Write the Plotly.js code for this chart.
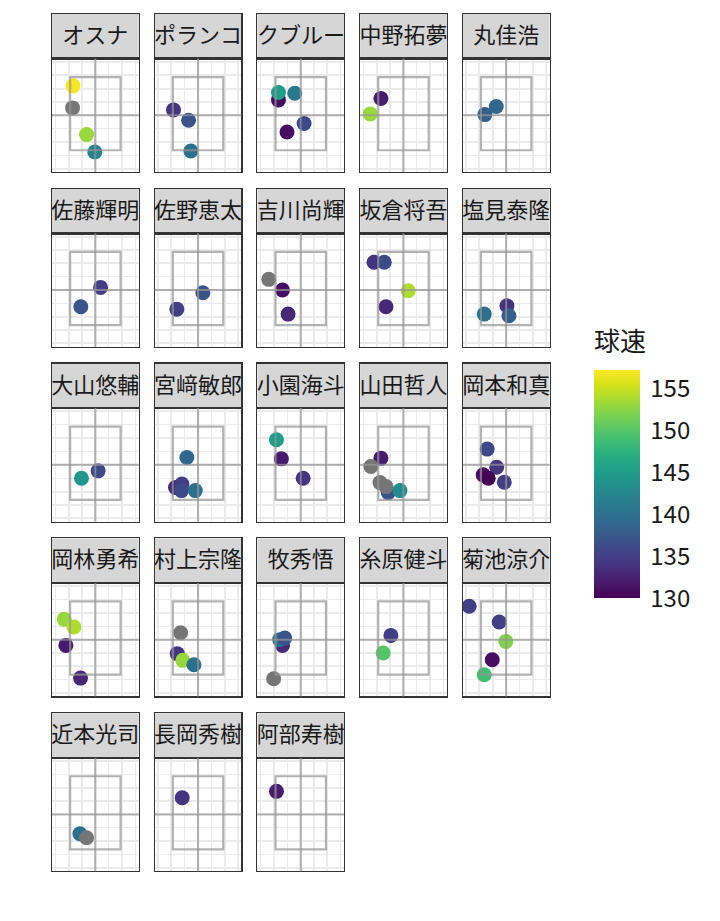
<!DOCTYPE html>
<html>
<head>
<meta charset="utf-8">
<script src="https://cdn.plot.ly/plotly-3.0.1.min.js"></script>
<style>html,body{margin:0;padding:0;background:#fff;}#chart{width:720px;height:921px;}</style>
</head>
<body>
<div id="chart"></div>
<script>
// ---- data ----
const players = ["オスナ","ポランコ","マクブルーム","中野拓夢","丸佳浩",
  "佐藤輝明","佐野恵太","吉川尚輝","坂倉将吾","塩見泰隆",
  "大山悠輔","宮﨑敏郎","小園海斗","山田哲人","岡本和真",
  "岡林勇希","村上宗隆","牧秀悟","糸原健斗","菊池涼介",
  "近本光司","長岡秀樹","阿部寿樹"];

// pitch -> player index
const pitchPlayer = [
  0,0,0,0,
  1,1,1,
  2,2,2,2,2,
  3,3,
  4,4,
  5,5,
  6,6,
  7,7,7,
  8,8,8,8,
  9,9,9,
  10,10,
  11,11,11,11,11,
  12,12,12,
  13,13,13,13,13,13,
  14,14,14,14,14,
  15,15,15,15,
  16,16,16,16,
  17,17,17,17,
  18,18,
  19,19,19,19,19,
  20,20,
  21,
  22];
const pitchX = [
  -1.67,-1.71,-0.66,-0.04,
  -1.84,-0.71,-0.54,
  -1.67,-1.67,-0.45,0.25,-1.03,
  -1.69,-2.49,
  -1.59,-0.74,
  0.39,-1.09,
  0.36,-1.59,
  -2.40,-1.37,-0.95,
  -2.21,-1.44,0.36,-1.31,
  -1.64,0.06,0.21,
  0.21,-1.04,
  -0.84,-1.69,-1.21,-1.24,-0.21,
  -1.82,-1.45,0.18,
  -1.69,-2.44,-1.14,-1.76,-1.31,-0.26,
  -1.42,-0.71,-1.72,-1.34,-0.14,
  -2.34,-1.61,-2.21,-1.11,
  -1.31,-1.56,-1.14,-0.31,
  -1.37,-1.58,-1.20,-2.03,
  -0.94,-1.52,
  -2.77,-0.52,-0.02,-1.04,-1.64,
  -1.16,-0.66,
  -1.19,
  -1.82];
const pitchY = [
  2.20,0.55,-1.45,-2.75,
  0.40,-0.38,-2.68,
  1.15,1.70,1.65,-0.62,-1.25,
  1.25,0.10,
  0.05,0.65,
  0.20,-1.25,
  -0.20,-1.43,
  0.80,0.00,-1.80,
  2.08,2.08,-0.05,-1.25,
  -1.80,-1.18,-1.93,
  -0.45,-1.00,
  0.55,-1.70,-1.43,-1.93,-1.93,
  1.88,0.45,-1.00,
  0.50,-0.12,-2.08,-1.33,-1.63,-1.93,
  1.18,-0.18,-0.75,-1.00,-1.30,
  1.52,0.95,-0.43,-2.88,
  0.52,-1.05,-1.55,-1.88,
  -0.43,0.00,0.12,-2.93,
  0.32,-1.00,
  2.50,1.32,-0.13,-1.50,-2.63,
  -1.45,-1.75,
  1.25,
  1.73];
const pitchSpeed = [
  157,null,153,142,
  134,137,140,
  131,145,141,136,131,
  132,153,
  138,139,
  135,137,
  137,135,
  null,131,133,
  134,136,154,133,
  140,134,138,
  136,144,
  139,133,135,136,140,
  145,132,134,
  132,null,137,null,null,143,
  136,134,131,130,135,
  153,154,132,133,
  null,134,153,140,
  133,140,137,null,
  135,150,
  135,135,152,131,149,
  140,null,
  134,
  132];
const speedTicks = [130,135,140,145,150,155];
const speedMin = 130, speedMax = 157.2;

// reference geometry (strike zone and plot extent)
const X_RANGE = [-3.25, 3.25];
const Y_RANGE = [-4.25, 4.25];
const ZONE_X = [-1.89, 1.89];
const ZONE_Y = [-2.62, 2.86];

// ---- layout geometry ----
const W = 720, H = 921;
const NCOL = 5;
const colLeft0 = 52, colStep = 102.7, panelW = 86.7;
const rowTop0 = 14, rowStep = 174.8, stripH = 44.5, panelH = 113.5;
const FONT = '"Noto Sans CJK JP", "Noto Sans", sans-serif';

// colour bar geometry (pixels)
const barLeftPx = 594, barWidthPx = 46, barTopPx = 370.0, barBottomPx = 598.3;
const cbTitleH = 42;

const layout = {
  width: W, height: H,
  margin: {l:0, r:0, t:0, b:0, pad:0},
  paper_bgcolor: '#ffffff',
  plot_bgcolor: 'rgba(0,0,0,0)',
  showlegend: false,
  hovermode: false,
  font: {family: FONT, color: '#1a1a1a'},
  shapes: []
};
const traces = [];
const NP = players.length;
let scaleShown = false;

for (let i = 0; i < NP; i++) {
  const r = Math.floor(i / NCOL), c = i % NCOL;
  const x0 = colLeft0 + c * colStep, x1 = x0 + panelW;
  const sTop = rowTop0 + r * rowStep, sBot = sTop + stripH, pBot = sBot + panelH;
  const pa = i + 1, sa = i + 1 + NP;
  const xd = [x0 / W, x1 / W];
  layout['xaxis' + pa] = {
    domain: xd, range: X_RANGE, anchor: 'y' + pa, fixedrange: true,
    showticklabels: false, ticks: '', zeroline: false,
    showgrid: true, gridcolor: '#ebebeb', gridwidth: 2, tick0: 0, dtick: 2,
    minor: {showgrid: true, dtick: 1, tick0: 0, gridcolor: '#ebebeb', gridwidth: 1.4},
    showline: true, mirror: true, linecolor: '#333333', linewidth: 1.2
  };
  layout['yaxis' + pa] = {
    domain: [1 - pBot / H, 1 - sBot / H], range: Y_RANGE, anchor: 'x' + pa, fixedrange: true,
    showticklabels: false, ticks: '', zeroline: false,
    showgrid: true, gridcolor: '#ebebeb', gridwidth: 2, tick0: 0, dtick: 2,
    minor: {showgrid: true, dtick: 1, tick0: 0, gridcolor: '#ebebeb', gridwidth: 1.4},
    showline: true, mirror: true, linecolor: '#333333', linewidth: 1.2
  };
  layout['xaxis' + sa] = {
    domain: xd, range: [0, 1], anchor: 'y' + sa, fixedrange: true,
    showticklabels: false, ticks: '', zeroline: false, showgrid: false,
    showline: true, mirror: true, linecolor: '#333333', linewidth: 1.2
  };
  layout['yaxis' + sa] = {
    domain: [1 - sBot / H, 1 - sTop / H], range: [0, 1], anchor: 'x' + sa, fixedrange: true,
    showticklabels: false, ticks: '', zeroline: false, showgrid: false,
    showline: true, mirror: true, linecolor: '#333333', linewidth: 1.2
  };
  // strip background
  layout.shapes.push({type: 'rect', xref: 'x' + sa + ' domain', yref: 'y' + sa + ' domain',
    x0: 0, x1: 1, y0: 0, y1: 1, fillcolor: '#d6d6d6', line: {width: 0}, layer: 'below'});
  // center lines
  const lc = 'rgba(150,150,150,0.72)';
  layout.shapes.push({type: 'line', xref: 'x' + pa + ' domain', yref: 'y' + pa,
    x0: 0, x1: 1, y0: 0, y1: 0, line: {color: lc, width: 2}, layer: 'above'});
  layout.shapes.push({type: 'line', xref: 'x' + pa, yref: 'y' + pa + ' domain',
    x0: 0, x1: 0, y0: 0, y1: 1, line: {color: lc, width: 2}, layer: 'above'});
  // strike zone
  layout.shapes.push({type: 'rect', xref: 'x' + pa, yref: 'y' + pa,
    x0: ZONE_X[0], x1: ZONE_X[1], y0: ZONE_Y[0], y1: ZONE_Y[1],
    line: {color: lc, width: 2.2}, fillcolor: 'rgba(0,0,0,0)', layer: 'above'});

  // strip label (clipped to strip)
  traces.push({type: 'scatter', mode: 'text', x: [0.5], y: [0.47], text: [players[i]],
    textposition: 'middle center', cliponaxis: true,
    textfont: {family: FONT, size: 22, color: '#1a1a1a'},
    xaxis: 'x' + sa, yaxis: 'y' + sa, hoverinfo: 'skip'});

  // points, grouped by runs of NA / non-NA to keep drawing order
  let runs = [];
  for (let k = 0; k < pitchPlayer.length; k++) {
    if (pitchPlayer[k] !== i) continue;
    const isNA = pitchSpeed[k] === null;
    if (!runs.length || runs[runs.length - 1].na !== isNA) runs.push({na: isNA, xs: [], ys: [], ss: []});
    const g = runs[runs.length - 1];
    g.xs.push(pitchX[k]); g.ys.push(pitchY[k]); g.ss.push(pitchSpeed[k]);
  }
  runs.forEach(g => {
    const t = {type: 'scatter', mode: 'markers', x: g.xs, y: g.ys,
      xaxis: 'x' + pa, yaxis: 'y' + pa, cliponaxis: true, hoverinfo: 'skip'};
    if (g.na) {
      t.marker = {size: 15, color: '#767676', line: {width: 0}};
    } else {
      t.marker = {size: 15, color: g.ss, colorscale: 'Viridis', cmin: speedMin, cmax: speedMax,
        line: {width: 0}, showscale: !scaleShown};
      if (!scaleShown) {
        scaleShown = true;
        const topPx = barTopPx - cbTitleH;
        t.marker.colorbar = {
          x: barLeftPx / W, xanchor: 'left', y: 1 - barBottomPx / H, yanchor: 'bottom',
          len: barBottomPx - topPx, lenmode: 'pixels', thickness: barWidthPx, thicknessmode: 'pixels',
          outlinewidth: 0, xpad: 0, ypad: 0,
          ticks: 'outside', ticklen: 6, tickwidth: 1, tickcolor: 'rgba(0,0,0,0)',
          tickvals: speedTicks, ticktext: speedTicks.map(String),
          tickfont: {family: FONT, size: 24, color: '#1a1a1a'},
          title: {text: '球速', side: 'top', font: {family: FONT, size: 26, color: '#1a1a1a'}}
        };
      }
    }
    traces.push(t);
  });
}

// white ticks on both edges of the colour bar (ggplot style)
speedTicks.forEach(v => {
  const py = barBottomPx - (v - speedMin) / (speedMax - speedMin) * (barBottomPx - barTopPx);
  [[barLeftPx, barLeftPx + 9], [barLeftPx + barWidthPx - 9, barLeftPx + barWidthPx]].forEach(([a, b]) => {
    layout.shapes.push({type: 'line', xref: 'paper', yref: 'paper',
      x0: a / W, x1: b / W, y0: 1 - py / H, y1: 1 - py / H,
      line: {color: '#ffffff', width: 1.4}, layer: 'above'});
  });
});

Plotly.newPlot('chart', traces, layout, {staticPlot: true, displayModeBar: false});
</script>
</body>
</html>
